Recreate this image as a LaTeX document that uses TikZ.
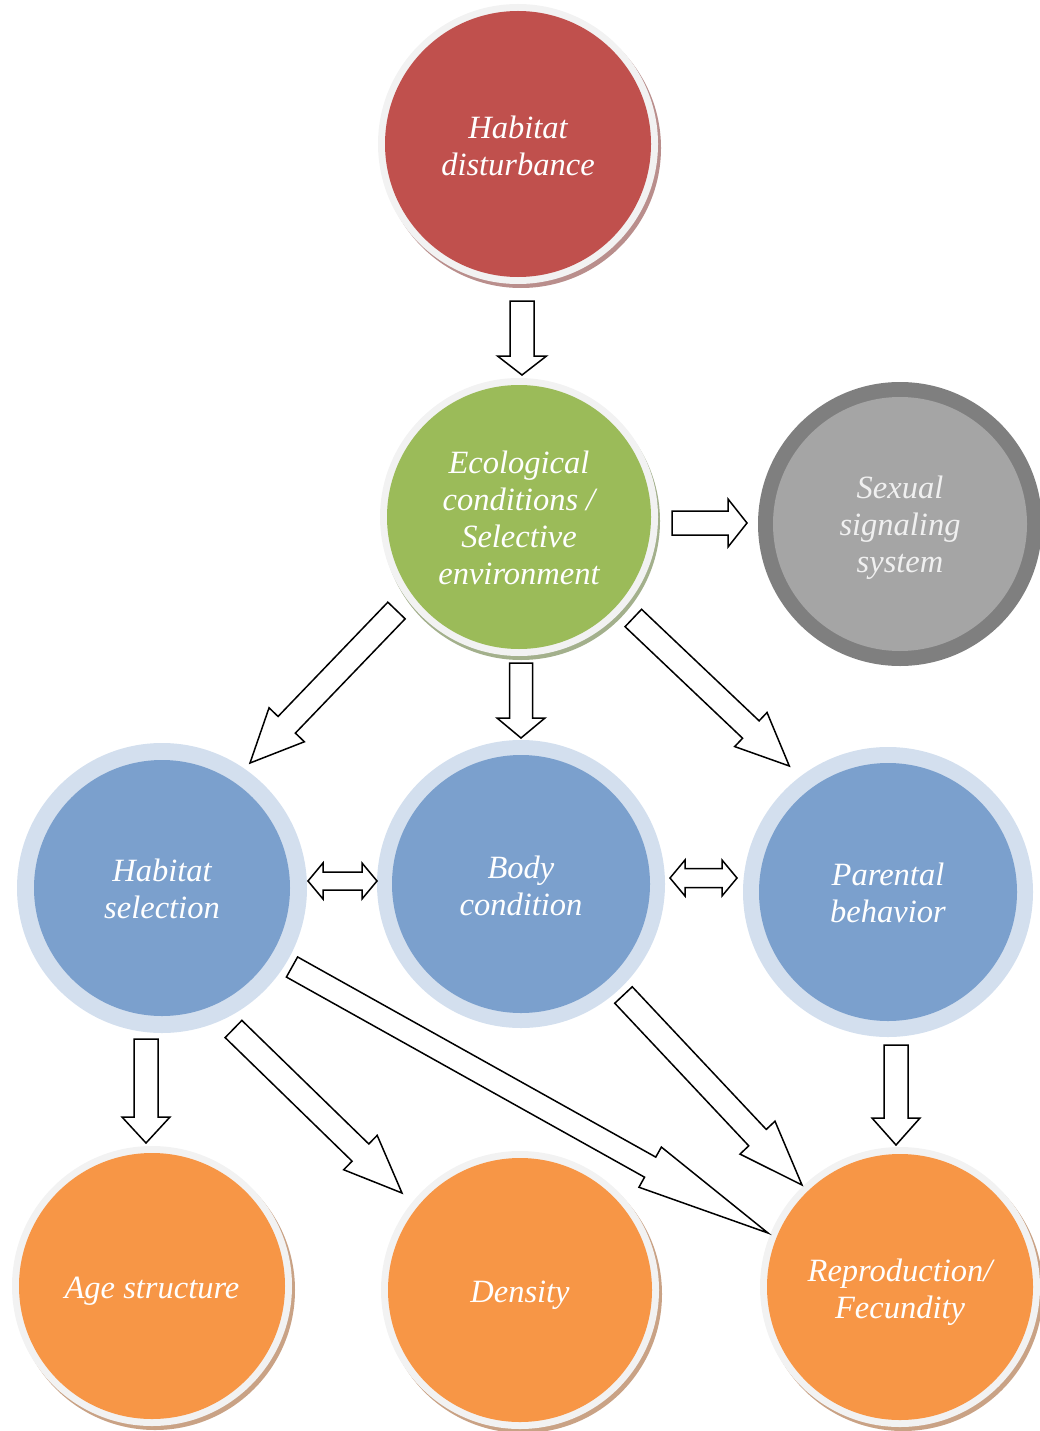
\documentclass[tikz,border=0pt]{standalone}
\usepackage{fontspec}
\setmainfont{Liberation Serif}
\usetikzlibrary{calc}
\definecolor{cred}{HTML}{C0504D}
\definecolor{credsh}{HTML}{B98E8C}
\definecolor{cgreen}{HTML}{9BBB59}
\definecolor{cgreensh}{HTML}{A3B08C}
\definecolor{cblue}{HTML}{7BA0CD}
\definecolor{cbluering}{HTML}{D3DFEE}
\definecolor{cgrayring}{HTML}{7F7F7F}
\definecolor{cgray}{HTML}{A5A5A5}
\definecolor{corange}{HTML}{F79646}
\definecolor{corangesh}{HTML}{C9A285}
\definecolor{cring}{HTML}{F2F2F2}
\tikzset{
  bub/.style={circle, inner sep=0pt},
  bubtxt/.style={inner sep=0pt, text=white, align=center,
    font=\fontsize{32.5}{37}\selectfont\itshape},
  barr/.style={draw=black, fill=white, line width=1.5pt, line join=miter},
}
\newcommand{\blockarr}[5]{%
  \coordinate (tmpH) at ($(#2)!#5!(#1)$);
  \draw[barr] ($(#1)!#3!90:(#2)$) -- ($(tmpH)!#3!90:(#2)$) -- ($(tmpH)!#4!90:(#2)$) -- (#2)
    -- ($(tmpH)!#4!-90:(#2)$) -- ($(tmpH)!#3!-90:(#2)$) -- ($(#1)!#3!-90:(#2)$) -- cycle;}
\newcommand{\dblarr}[5]{%
  \coordinate (tmpA) at ($(#1)!#5!(#2)$);
  \coordinate (tmpB) at ($(#2)!#5!(#1)$);
  \draw[barr] (#1) -- ($(tmpA)!#4!90:(#2)$) -- ($(tmpA)!#3!90:(#2)$) -- ($(tmpB)!#3!90:(#2)$)
    -- ($(tmpB)!#4!90:(#2)$) -- (#2) -- ($(tmpB)!#4!-90:(#2)$) -- ($(tmpB)!#3!-90:(#2)$)
    -- ($(tmpA)!#3!-90:(#2)$) -- ($(tmpA)!#4!-90:(#2)$) -- cycle;}
\begin{document}
\begin{tikzpicture}[x=1pt,y=-1pt]
\useasboundingbox (0,0) rectangle (1040,1431);
% ---- top: habitat disturbance
\fill[credsh] (521,148) circle (140pt);
\fill[cring] (518,144) circle (140pt);
\node[bub, fill=cred, minimum size=266pt] (hd) at (518,144) {};
\node[bubtxt] (hdt) at ($(hd.center)+(0,2)$) {Habitat\\disturbance};
% ---- ecological conditions
\fill[cgreensh] (521,521) circle (139pt);
\fill[cring] (519,517) circle (139pt);
\node[bub, fill=cgreen, minimum size=264pt] (eco) at (519,517) {};
\node[bubtxt] (ecot) at ($(eco.center)+(0,1)$) {Ecological\\conditions /\\Selective\\environment};
% ---- sexual signaling
\fill[cgrayring] (900,524) circle (142pt);
\node[bub, fill=cgray, minimum size=254pt] (sex) at (900,524) {};
\node[bubtxt, text=white!94!black] (sext) at ($(sex.center)+(0,4)$) {Sexual\\signaling\\system};
% ---- blue row
\fill[cbluering] (162,888) circle (145pt);
\node[bub, fill=cblue, minimum size=256pt] (hs) at (162,888) {};
\node[bubtxt] (hst) at ($(hs.center)+(0,1)$) {Habitat\\selection};
\fill[cbluering] (521,884) circle (144pt);
\node[bub, fill=cblue, minimum size=258pt] (bc) at (521,884) {};
\node[bubtxt] (bct) at ($(bc.center)+(0,2)$) {Body\\condition};
\fill[cbluering] (888,892) circle (145pt);
\node[bub, fill=cblue, minimum size=258pt] (pb) at (888,892) {};
\node[bubtxt] (pbt) at ($(pb.center)+(0,1)$) {Parental\\behavior};
% ---- orange row
\fill[corangesh] (155,1290) circle (140pt);
\fill[cring] (152,1286) circle (140pt);
\node[bub, fill=corange, minimum size=266pt] (age) at (152,1286) {};
\node[bubtxt] (aget) at ($(age.center)+(0,5)$) {Age structure};
\fill[corangesh] (523,1294) circle (139pt);
\fill[cring] (520,1290) circle (139pt);
\node[bub, fill=corange, minimum size=264pt] (den) at (520,1290) {};
\node[bubtxt] (dent) at ($(den.center)+(0,5)$) {Density};
\fill[corangesh] (903,1291) circle (140pt);
\fill[cring] (900,1287) circle (140pt);
\node[bub, fill=corange, minimum size=266pt] (rep) at (900,1287) {};
\node[bubtxt] (rept) at ($(rep.center)+(0,5)$) {Reproduction/\\Fecundity};
% ---- arrow end points
\coordinate (a1t) at (522,301);   \coordinate (a1h) at (522,375);
\coordinate (a2t) at (672,523);   \coordinate (a2h) at (747,523);
\coordinate (a3t) at (396.5,610.5); \coordinate (a3h) at (250,763);
\coordinate (a4t) at (521,663);   \coordinate (a4h) at (521,738);
\coordinate (a5t) at (633.3,618); \coordinate (a5h) at (789.3,766);
\coordinate (a6l) at (308,881);   \coordinate (a6r) at (377,881);
\coordinate (a7l) at (670,878);   \coordinate (a7r) at (737,878);
\coordinate (a8t) at (146,1039);  \coordinate (a8h) at (146,1143);
\coordinate (a9t) at (233.5,1029); \coordinate (a9h) at (402,1193);
\coordinate (a10t) at (292,967);  \coordinate (a10h) at (768,1233);
\coordinate (a11t) at (623.5,995); \coordinate (a11h) at (802,1185);
\coordinate (a12t) at (896,1045); \coordinate (a12h) at (896,1145);
% ---- arrows
\blockarr{a1t}{a1h}{12pt}{24.5pt}{19pt}
\blockarr{a2t}{a2h}{12pt}{24pt}{19pt}
\blockarr{a3t}{a3h}{12pt}{24.5pt}{53pt}
\blockarr{a4t}{a4h}{11.5pt}{24pt}{20pt}
\blockarr{a5t}{a5h}{12pt}{23.5pt}{53pt}
\dblarr{a6l}{a6r}{9pt}{18pt}{15pt}
\dblarr{a7l}{a7r}{9.5pt}{18pt}{15pt}
\blockarr{a8t}{a8h}{12pt}{24pt}{26pt}
\blockarr{a9t}{a9h}{12pt}{24pt}{58pt}
\blockarr{a10t}{a10h}{11.5pt}{23pt}{135pt}
\blockarr{a11t}{a11h}{12pt}{24pt}{65pt}
\blockarr{a12t}{a12h}{12pt}{24pt}{27pt}
\end{tikzpicture}
\end{document}
